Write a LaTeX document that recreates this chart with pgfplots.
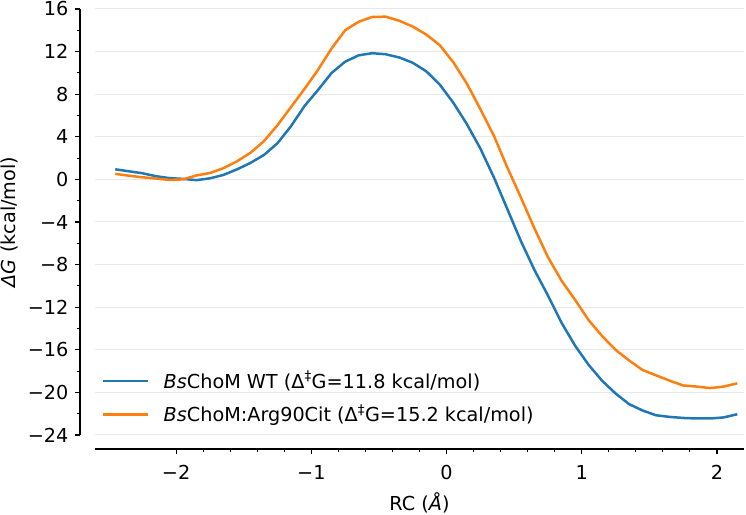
\documentclass[border=0pt]{standalone}
\usepackage{fontspec}
\setmainfont{DejaVu Sans}
\usepackage{pgfplots}
\pgfplotsset{compat=1.18}
\definecolor{tabblue}{HTML}{1F77B4}
\definecolor{taborange}{HTML}{FF7F0E}
\definecolor{gridgray}{HTML}{E8E8E8}
\begin{document}
\fontsize{19.3}{23}\selectfont
\begin{tikzpicture}
% main axis: grid, data, legend
\begin{axis}[
  at={(95bp,80bp)}, anchor=south west,
  scale only axis, width=649bp, height=426bp,
  xmin=-2.6, xmax=2.2, ymin=-24, ymax=16,
  axis line style={draw=none},
  xtick=\empty,
  ytick={-24,-20,...,16}, yticklabels=\empty,
  major tick length=0pt,
  ymajorgrids, grid style={gridgray, line width=1bp},
  clip=false,
  legend style={draw=none, fill=none, at={(0.0,0.0)}, anchor=south west,
    font=\fontsize{19.3}{23}\selectfont, row sep=9.5bp,
    inner xsep=7bp, inner ysep=8bp, cells={anchor=west}},
  legend image code/.code={\draw[#1, line width=2.5bp] (0bp,0bp) -- (45bp,0bp); \path (57bp,0bp);},
  legend cell align=left,
]
\addplot[tabblue, line width=2.5bp, line join=round] coordinates {
(-2.45,0.95) (-2.35,0.76) (-2.25,0.58) (-2.15,0.30) (-2.05,0.12)
(-1.95,0.05) (-1.85,-0.07) (-1.75,0.10) (-1.65,0.42) (-1.55,0.94)
(-1.45,1.55) (-1.35,2.30) (-1.25,3.40) (-1.15,5.00) (-1.05,6.90)
(-0.95,8.40) (-0.85,10.00) (-0.75,11.05) (-0.65,11.65) (-0.55,11.85)
(-0.45,11.75) (-0.35,11.45) (-0.25,10.95) (-0.15,10.15) (-0.05,8.90)
(0.05,7.20) (0.15,5.20) (0.25,2.90) (0.35,0.20) (0.45,-2.80)
(0.55,-5.80) (0.65,-8.50) (0.75,-10.90) (0.85,-13.45) (0.95,-15.60)
(1.05,-17.40) (1.15,-18.90) (1.25,-20.10) (1.35,-21.10) (1.45,-21.70)
(1.55,-22.15) (1.65,-22.30) (1.75,-22.40) (1.85,-22.45) (1.95,-22.45)
(2.05,-22.35) (2.15,-22.05)
};
\addlegendentry{\textit{Bs}ChoM WT (Δ\textsuperscript{‡}G=11.8 kcal/mol)}
\addplot[taborange, line width=2.5bp, line join=round] coordinates {
(-2.45,0.52) (-2.35,0.35) (-2.25,0.20) (-2.15,0.08) (-2.05,-0.05)
(-1.95,0.00) (-1.85,0.37) (-1.75,0.60) (-1.65,1.05) (-1.55,1.70)
(-1.45,2.50) (-1.35,3.60) (-1.25,5.10) (-1.15,6.80) (-1.05,8.50)
(-0.95,10.30) (-0.85,12.30) (-0.75,14.00) (-0.65,14.80) (-0.55,15.25)
(-0.45,15.28) (-0.35,14.90) (-0.25,14.35) (-0.15,13.60) (-0.05,12.60)
(0.05,11.00) (0.15,9.00) (0.25,6.60) (0.35,4.10) (0.45,1.10)
(0.55,-1.70) (0.65,-4.60) (0.75,-7.30) (0.85,-9.50) (0.95,-11.30)
(1.05,-13.20) (1.15,-14.70) (1.25,-16.00) (1.35,-17.00) (1.45,-17.90)
(1.55,-18.40) (1.65,-18.90) (1.75,-19.35) (1.85,-19.45) (1.95,-19.60)
(2.05,-19.45) (2.15,-19.15)
};
\addlegendentry{\textit{Bs}ChoM:Arg90Cit (Δ\textsuperscript{‡}G=15.2 kcal/mol)}
\end{axis}
% offset bottom spine
\begin{axis}[
  at={(95bp,66bp)}, anchor=south west,
  scale only axis, width=649bp, height=1bp,
  xmin=-2.6, xmax=2.2, ymin=0, ymax=1,
  axis x line*=bottom, hide y axis,
  axis line style={line width=1.1bp, -},
  xtick={-2,-1,0,1,2}, xticklabels={−2,−1,0,1,2},
  xticklabel style={yshift=-5bp},
  minor x tick num=4,
  tick align=outside,
  major tick length=5bp, minor tick length=3bp,
  every tick/.style={black, line width=1.1bp},
  xlabel={RC (\textit{Å})},
  xlabel style={yshift=1bp},
]
\addplot[draw=none] coordinates {(-2.6,0) (2.2,0)};
\end{axis}
% offset left spine
\begin{axis}[
  at={(81bp,80bp)}, anchor=south east,
  scale only axis, width=1bp, height=426bp,
  xmin=0, xmax=1, ymin=-24, ymax=16,
  axis y line*=left, hide x axis,
  axis line style={line width=1.1bp, -},
  ytick={-24,-20,...,16},
  yticklabels={−24,−20,−16,−12,−8,−4,0,4,8,12,16},
  minor y tick num=1,
  tick align=outside,
  major tick length=5bp, minor tick length=3bp,
  every tick/.style={black, line width=1.1bp},
  ylabel={\textit{ΔG} (kcal/mol)},
  ylabel style={yshift=-3bp},
]
\addplot[draw=none] coordinates {(0,-24) (0,16)};
\end{axis}
\pgfresetboundingbox
\path (0,0) rectangle (746bp,515bp);
\end{tikzpicture}
\end{document}
